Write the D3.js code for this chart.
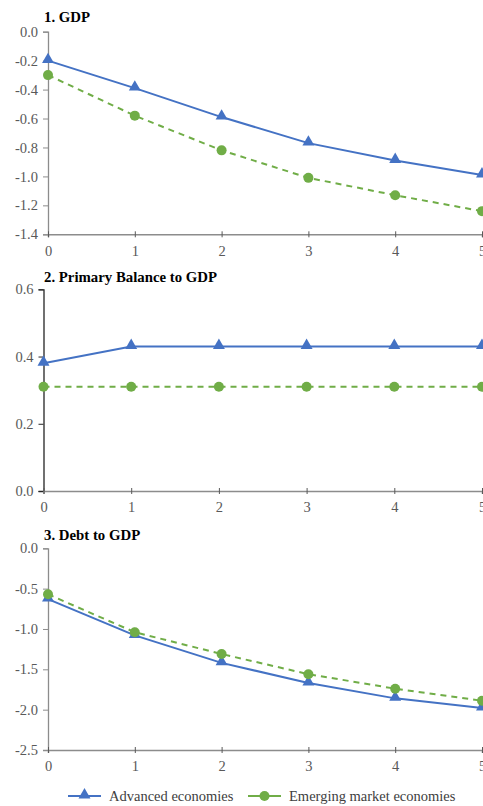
<!DOCTYPE html>
<html>
<head>
<meta charset="utf-8">
<script src="https://cdn.jsdelivr.net/npm/d3@7"></script>
<style>
  html, body { margin: 0; padding: 0; background: #fff; }
  svg { display: block; }
</style>
</head>
<body>
<svg id="chart" width="483" height="806"></svg>
<script>
// ---- Data ----
const years = [0, 1, 2, 3, 4, 5];
const seriesNames = ["Advanced economies", "Emerging market economies"];

const panelTitles = ["1. GDP", "2. Primary Balance to GDP", "3. Debt to GDP"];

const gdpAdvanced = [-0.20, -0.39, -0.59, -0.77, -0.89, -0.99];
const gdpEmerging = [-0.30, -0.58, -0.82, -1.01, -1.13, -1.24];

const pbAdvanced = [0.38, 0.43, 0.43, 0.43, 0.43, 0.43];
const pbEmerging = [0.31, 0.31, 0.31, 0.31, 0.31, 0.31];

const debtAdvanced = [-0.63, -1.08, -1.42, -1.67, -1.86, -1.98];
const debtEmerging = [-0.57, -1.04, -1.31, -1.56, -1.74, -1.89];

const gdpTicks = [0.0, -0.2, -0.4, -0.6, -0.8, -1.0, -1.2, -1.4];
const pbTicks = [0.0, 0.2, 0.4, 0.6];
const debtTicks = [0.0, -0.5, -1.0, -1.5, -2.0, -2.5];

// ---- Layout ----
const FONT = "'Liberation Serif', 'Times New Roman', serif";
const svg = d3.select("#chart");
const colors = ["#4472C4", "#70AD47"];

const panels = [
  { title: panelTitles[0], adv: gdpAdvanced, em: gdpEmerging, ticks: gdpTicks, domain: [-1.4, 0.0],
    left: 48, top: 31.7, bottom: 234.3, axisColor: "#8c8c8c", titleY: 22 },
  { title: panelTitles[1], adv: pbAdvanced, em: pbEmerging, ticks: pbTicks, domain: [0.0, 0.6],
    left: 43.5, top: 289.3, bottom: 491, axisColor: "#262626", titleY: 282 },
  { title: panelTitles[2], adv: debtAdvanced, em: debtEmerging, ticks: debtTicks, domain: [-2.5, 0.0],
    left: 48, top: 548.3, bottom: 750, axisColor: "#8c8c8c", titleY: 540 }
];

const right = 482;
const triangle = d3.symbol().type(d3.symbolTriangle).size(62);

panels.forEach(p => {
  const g = svg.append("g");
  const x = d3.scaleLinear().domain([0, 5]).range([p.left, right]);
  const y = d3.scaleLinear().domain(p.domain).range([p.bottom, p.top]);

  // title
  g.append("text")
    .attr("x", 44).attr("y", p.titleY)
    .style("font-family", FONT)
    .style("font-size", "14.8px").style("font-weight", "bold").attr("fill", "#000")
    .text(p.title);

  // y axis
  const yAxis = d3.axisLeft(y).tickValues(p.ticks).tickFormat(d => d3.format(".1f")(d).replace("−", "-")).tickSize(5).tickPadding(5);
  const ya = g.append("g").attr("transform", `translate(${p.left},0)`).call(yAxis);
  ya.select(".domain").attr("stroke", p.axisColor).attr("stroke-width", 1.3);
  ya.selectAll(".tick line").attr("stroke", p.axisColor);
  ya.selectAll(".tick text").style("font-size", "14.5px").attr("fill", "#595959")
    .style("font-family", FONT);

  // x axis
  const xAxis = d3.axisBottom(x).tickValues(years).tickFormat(d3.format("d")).tickSize(3).tickPadding(8);
  const xa = g.append("g").attr("transform", `translate(0,${p.bottom})`).call(xAxis);
  xa.select(".domain").attr("stroke", "#8c8c8c").attr("stroke-width", 1.5);
  xa.selectAll(".tick line").attr("stroke", "#595959").attr("y1", -3);
  xa.selectAll(".tick text").style("font-size", "14.5px").attr("fill", "#595959")
    .style("font-family", FONT);

  const line = d3.line().x((d, i) => x(years[i])).y(d => y(d));

  // emerging (dashed green)
  g.append("path").datum(p.em).attr("d", line)
    .attr("fill", "none").attr("stroke", colors[1]).attr("stroke-width", 2)
    .attr("stroke-dasharray", "6,5");
  // advanced (solid blue)
  g.append("path").datum(p.adv).attr("d", line)
    .attr("fill", "none").attr("stroke", colors[0]).attr("stroke-width", 2);

  g.selectAll(".tri").data(p.adv).enter().append("path")
    .attr("d", triangle)
    .attr("transform", (d, i) => `translate(${x(years[i])},${y(d) - 1})`)
    .attr("fill", colors[0]);

  g.selectAll(".dot").data(p.em).enter().append("circle")
    .attr("cx", (d, i) => x(years[i])).attr("cy", d => y(d)).attr("r", 5)
    .attr("fill", colors[1]);
});

// ---- Legend ----
const lg = svg.append("g");
const legendY = 796;
const legendItems = [
  { name: seriesNames[0], x0: 68, color: colors[0], marker: "tri" },
  { name: seriesNames[1], x0: 248, color: colors[1], marker: "dot" }
];
legendItems.forEach(it => {
  lg.append("line").attr("x1", it.x0).attr("x2", it.x0 + 33)
    .attr("y1", legendY).attr("y2", legendY)
    .attr("stroke", it.color).attr("stroke-width", 2);
  if (it.marker === "tri") {
    lg.append("path").attr("d", triangle)
      .attr("transform", `translate(${it.x0 + 16.5},${legendY - 1})`).attr("fill", it.color);
  } else {
    lg.append("circle").attr("cx", it.x0 + 16.5).attr("cy", legendY).attr("r", 5).attr("fill", it.color);
  }
  lg.append("text").attr("x", it.x0 + 41).attr("y", legendY + 4.5)
    .style("font-family", FONT)
    .style("font-size", "14.5px").attr("fill", "#404040")
    .text(it.name);
});
</script>
</body>
</html>
